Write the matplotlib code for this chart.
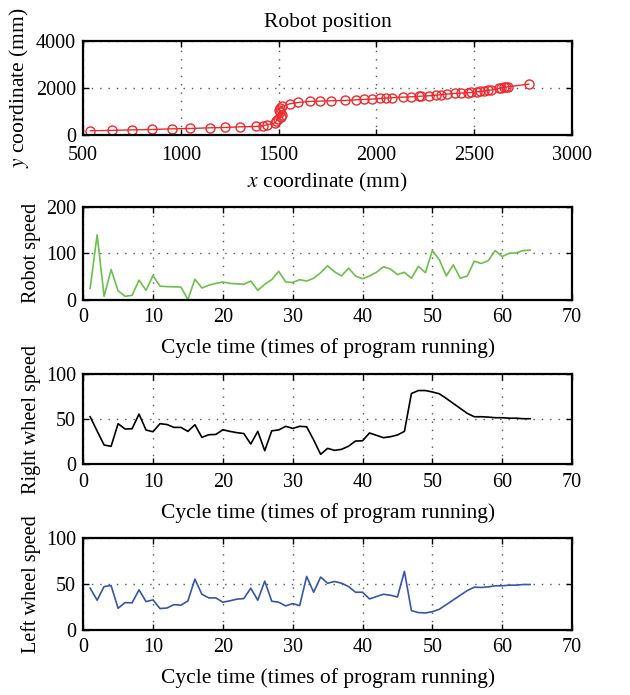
import matplotlib
matplotlib.use("Agg")
import matplotlib.pyplot as plt
import numpy as np

plt.rcParams['font.family'] = ['Liberation Serif', 'DejaVu Serif']
plt.rcParams['mathtext.fontset'] = 'stix'
plt.rcParams['font.size'] = 15

# trajectoire du robot (mm)
pos_x = [537, 645, 752, 854, 953, 1045, 1147, 1227, 1304, 1382, 1420, 1440,
         1483, 1488, 1497, 1512, 1518, 1508, 1500, 1506, 1519, 1556, 1600,
         1658, 1710, 1769, 1841, 1897, 1936, 1977, 2016, 2050, 2079, 2135,
         2178, 2215, 2229, 2268, 2306, 2331, 2362, 2399, 2432, 2468, 2485,
         2515, 2531, 2548, 2570, 2587, 2626, 2638, 2652, 2664, 2672, 2779]
pos_y = [175, 190, 213, 228, 256, 270, 299, 313, 342, 356, 384, 427,
         512, 598, 690, 770, 860, 960, 1060, 1150, 1224, 1323, 1380,
         1423, 1437, 1451, 1465, 1494, 1508, 1523, 1551, 1565, 1580, 1608,
         1622, 1636, 1651, 1665, 1693, 1708, 1736, 1765, 1779, 1793, 1807,
         1836, 1850, 1864, 1893, 1907, 1978, 2006, 2021, 2035, 2049, 2163]

cycle = np.arange(1, 65)

robot_speed = [24, 140, 7, 65, 19, 7, 9, 42, 20, 52, 29, 28, 27.5, 27, 0, 44,
               25, 31, 35, 38, 35, 34, 33, 40, 20, 33, 43, 61, 38, 37, 43, 40,
               46, 58, 73, 60, 51, 68, 51, 45, 51, 59, 71, 66, 54, 59, 46, 72,
               58, 106, 86, 51, 75, 46, 51, 83, 78, 84, 106, 93, 100, 101, 106, 107]

right_speed = [52.6, 36.8, 21.3, 19.9, 44.9, 39, 39.3, 55.5, 37.9, 36, 44.9, 44,
               40.8, 40.8, 36.4, 43.8, 29.8, 32.7, 33, 38.2, 36.4, 35, 34, 22.4,
               36.4, 15, 37, 38, 42, 39.7, 42, 41.5, 27, 11, 17.6, 15.4,
               16.5, 20, 25.7, 26, 34.6, 32, 29.4, 30.5, 32.4, 36.4, 78.3, 81.6,
               81.6, 80, 78, 72.8, 67.3, 61.8, 56.3, 52.6, 52.6, 52.2, 51.5, 51.5,
               51, 51, 50.4, 50.4]

left_speed = [45.6, 32.5, 47.4, 48.5, 23.7, 29.9, 29.6, 43.8, 31, 32.8, 23.4, 24,
              27.7, 27, 31.8, 55.5, 39, 35, 35, 30.3, 31.8, 33.6, 34.3, 45.6,
              32.5, 53.3, 31.4, 30.3, 26.3, 28.8, 26.6, 58.4, 41.2, 57.7, 51, 52.9,
              51, 47.4, 41.2, 41.2, 33.9, 36.5, 39, 37.9, 36, 63.9, 21.2, 19,
              18.6, 20, 22.6, 27.7, 32.8, 37.9, 43, 46.7, 46.4, 47, 48.2, 48.2,
              48.9, 48.9, 49.6, 49.6]


def style(ax, xpad=6):
    ax.grid(True, linestyle=(0, (1, 5)), color='#555555', linewidth=1)
    ax.tick_params(direction='in', top=True, right=True, length=4, width=1,
                   labelsize=14.5)
    ax.tick_params(axis='x', pad=xpad)
    ax.tick_params(axis='y', pad=5)
    for s in ax.spines.values():
        s.set_linewidth(1.6)


fig = plt.figure(figsize=(6.3, 6.95), dpi=100)
left, width = 0.132, 0.776

# position du robot
ax0 = fig.add_axes([left, 0.806, width, 0.135])
ax0.plot(pos_x, pos_y, color='#ee2a2e', linewidth=1, marker='o',
         markersize=6.5, markerfacecolor='none', markeredgewidth=1)
ax0.set_xlim(500, 3000)
ax0.set_ylim(0, 4000)
ax0.set_xticks([500, 1000, 1500, 2000, 2500, 3000])
ax0.set_yticks([0, 2000, 4000])
ax0.set_title('Robot position', fontsize=15.5, pad=10)
ax0.set_xlabel('$x$ coordinate (mm)', fontsize=15.5, labelpad=4)
ax0.set_ylabel('$y$ coordinate (mm)', fontsize=15.5, labelpad=4)
style(ax0, xpad=8)

panels = [
    (0.569, 0.133, robot_speed, '#6cc04a', 'Robot speed', [0, 100, 200]),
    (0.332, 0.130, right_speed, 'black', 'Right wheel speed', [0, 50, 100]),
    (0.0935, 0.132, left_speed, '#3656a8', 'Left wheel speed', [0, 50, 100]),
]
for bottom, h, vals, col, lab, yt in panels:
    ax = fig.add_axes([left, bottom, width, h])
    ax.plot(cycle, vals, color=col, linewidth=1.2)
    ax.set_xlim(0, 70)
    ax.set_ylim(yt[0], yt[-1])
    ax.set_xticks(range(0, 71, 10))
    ax.set_yticks(yt)
    ax.set_xlabel('Cycle time (times of program running)', fontsize=15.5,
                  labelpad=8)
    ax.set_ylabel(lab, fontsize=14.5)
    style(ax)

fig.savefig('out.png', dpi=100)
